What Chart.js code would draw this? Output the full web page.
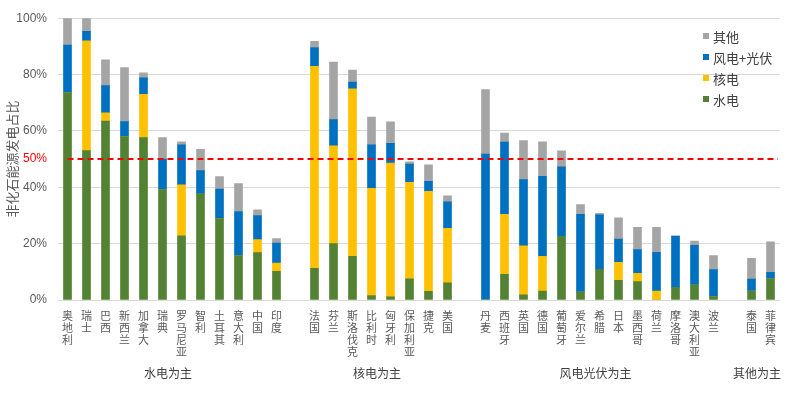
<!DOCTYPE html>
<html><head><meta charset="utf-8">
<script src="https://cdn.jsdelivr.net/npm/chart.js@4/dist/chart.umd.min.js"></script>
<style>html,body{margin:0;padding:0;background:#fff}#wrap{width:800px;height:396px}</style>
</head><body><div id="wrap"><canvas id="c" width="800" height="396"></canvas></div>
<script>
const categories = ['奥地利','瑞士','巴西','新西兰','加拿大','瑞典','罗马尼亚','智利','土耳其','意大利','中国','印度','',
  '法国','芬兰','斯洛伐克','比利时','匈牙利','保加利亚','捷克','美国','',
  '丹麦','西班牙','英国','德国','葡萄牙','爱尔兰','希腊','日本','墨西哥','荷兰','摩洛哥','澳大利亚','波兰','',
  '泰国','菲律宾'];
const hydro   = [73.5,53,63.5,57.9,57.6,39.2,22.8,37.6,28.9,15.8,16.8,10.2,null, 11.2,20,15.5,1.6,1.1,7.5,3.1,6.1,null, 0,9.1,1.8,3.2,22.6,2.8,10.9,7,6.5,0,4.5,5.3,1.2,null, 3.2,7.5];
const nuclear = [0,39,2.9,0,15.4,0,18.1,0,0,0,4.6,2.9,null, 71.7,34.7,59.4,38,47.5,34.3,35.5,19.3,null, 0,21.3,17.4,12.3,0,0,0,6.4,3,3.2,0,0,0,null, 0,0];
const windSolar = [17,3.3,9.7,5.4,5.8,10.8,14.2,8.3,10.5,15.6,8.6,7.1,null, 6.7,9.3,2.4,15.5,7,6.4,3.5,9.4,null, 51.8,25.6,23.5,28.4,24.7,27.6,19.3,8.2,8.4,13.7,18.2,14.1,9.6,null, 4.2,2.3];
const other   = [9.5,4.7,9.1,19.2,1.8,7.6,1,7.6,4.4,9.9,2,1.6,null, 2.2,20.4,4.3,9.8,7.6,0.8,5.9,2.2,null, 22.9,3.2,13.9,12.2,5.6,3.5,0.6,7.6,7.9,8.9,0,1.5,5,null, 7.4,10.8];
const seriesNames = ['水电','核电','风电+光伏','其他'];
const groupNames = ['水电为主','核电为主','风电光伏为主','其他为主'];
const groupRanges = [[0,11],[13,20],[22,34],[36,37]];
const yTicks = [0,20,40,50,60,80,100];
const threshold = 50;
const yTitle = '非化石能源发电占比';

const colors = ['#548235','#FFC000','#0070C0','#A5A5A5'];
const values = [hydro, nuclear, windSolar, other];

const cjk = '"Noto Sans CJK SC", sans-serif';

const extras = {
  id: 'extras',
  afterDatasetsDraw(chart) {
    const ctx = chart.ctx, x = chart.scales.x, y = chart.scales.y;
    ctx.save();
    ctx.strokeStyle = '#FF0000';
    ctx.lineWidth = 2;
    ctx.setLineDash([6,4]);
    const yp = Math.round(y.getPixelForValue(threshold));
    ctx.beginPath();
    ctx.moveTo(x.getPixelForValue(0), yp);
    ctx.lineTo(x.right - 2, yp);
    ctx.stroke();
    ctx.restore();
  },
  afterDraw(chart) {
    const ctx = chart.ctx, x = chart.scales.x;
    ctx.save();
    ctx.font = '12px ' + cjk;
    ctx.fillStyle = '#404040';
    ctx.textAlign = 'center';
    ctx.textBaseline = 'middle';
    groupRanges.forEach((r, i) => {
      const cx = (x.getPixelForValue(r[0]) + x.getPixelForValue(r[1])) / 2;
      ctx.fillText(groupNames[i], cx - 4, 373);
    });
    ctx.textAlign = 'left';
    ctx.font = '13px ' + cjk;
    const order = [3,2,1,0];
    order.forEach((di, k) => {
      const ds = chart.data.datasets[di];
      const ly = 36 + k * 21;
      ctx.fillStyle = ds.backgroundColor;
      ctx.fillRect(703, ly - 3, 6, 6);
      ctx.fillStyle = '#404040';
      ctx.fillText(ds.label, 713, ly + 1);
    });
    ctx.restore();
  }
};

new Chart(document.getElementById('c'), {
  type: 'bar',
  data: {
    labels: categories.map(c => Array.from(c)),
    datasets: seriesNames.map((n, i) => ({
      label: n, data: values[i], backgroundColor: colors[i], borderWidth: 0,
      barThickness: 8, stack: 's'
    }))
  },
  options: {
    responsive: false,
    animation: false,
    layout: { padding: { top: 17, right: 20, left: 0, bottom: 0 } },
    plugins: { legend: { display: false }, tooltip: { enabled: false } },
    scales: {
      x: {
        stacked: true,
        grid: { display: false },
        border: { display: false },
        ticks: {
          autoSkip: false, maxRotation: 0, minRotation: 0, padding: 2,
          color: '#595959',
          font: { family: cjk, size: 11, lineHeight: 12/11 }
        },
        afterFit(s) { s.height = 96; }
      },
      y: {
        stacked: true, min: 0, max: 100,
        afterBuildTicks(s) { s.ticks = yTicks.map(v => ({ value: v })); },
        grid: {
          color: c => (c.tick && c.tick.value === threshold) ? 'rgba(0,0,0,0)' : '#D9D9D9',
          drawTicks: false, lineWidth: 1
        },
        border: { display: false },
        ticks: {
          padding: 11,
          color: c => (c.tick && c.tick.value === threshold) ? '#FF0000' : '#595959',
          font: { family: '"Liberation Sans", Arial, sans-serif', size: 12 },
          callback: v => v + '%'
        },
        title: {
          display: true, text: yTitle, color: '#595959',
          font: { family: cjk, size: 13 }, padding: { top: 4, bottom: 4 }
        },
        afterFit(s) { s.width = 58; }
      }
    }
  },
  plugins: [extras]
});
</script>
</body></html>
